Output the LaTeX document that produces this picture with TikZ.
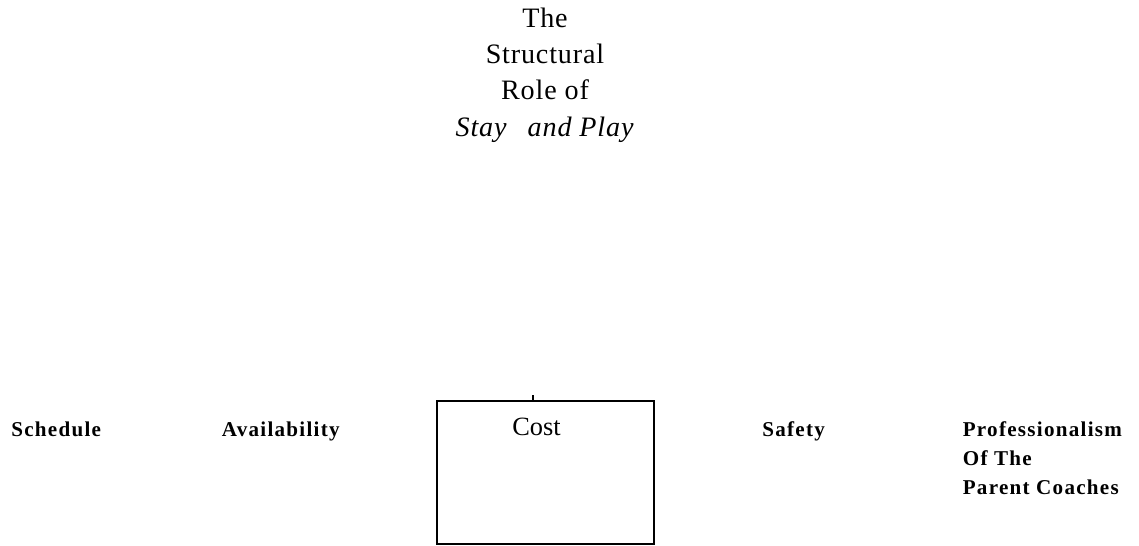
\documentclass[tikz,border=0pt]{standalone}
\usepackage{fontspec}
\setmainfont{Liberation Serif}
\usepackage{tikz}

\begin{document}
\begin{tikzpicture}[
    factor/.style={anchor=base west, inner sep=0pt, align=left,
      font={\fontsize{12pt}{16.4pt}\selectfont\bfseries\addfontfeatures{LetterSpace=6}}},
    heading/.style={anchor=base, inner sep=0pt, align=center,
      font={\fontsize{16pt}{20.6pt}\selectfont\addfontfeatures{LetterSpace=3}}}]
    \useasboundingbox (0, 0) rectangle (22.78, 10.9);
    % Title (anchored at its last line)
    \node[heading] (title) at (10.9, 8.18) {The\\ Structural\\ Role of\\ \textit{Stay\hspace{0.75em}and Play}};
    % Factors
    \node[factor] (schedule) at (0.22, 2.18) {Schedule};
    \node[factor] (availability) at (4.43, 2.18) {Availability};
    \node[factor] (safety) at (15.24, 2.18) {Safety};
    \node[factor] (professionalism) at (19.25, 1.02) {Professionalism\\ Of The\\ Parent Coaches};
    % Cost box
    \node[draw, line width=1pt, minimum width=4.34cm, minimum height=2.86cm] (costbox) at (10.91, 1.45) {};
    \node[anchor=base, inner sep=0pt, font={\fontsize{15pt}{18pt}\selectfont}] (cost) at (10.73, 2.2) {Cost};
    \coordinate (costtick) at (10.66, 3.0);
    \draw[line width=0.6pt] (costtick) -- (costtick |- costbox.north);
\end{tikzpicture}
\end{document}
